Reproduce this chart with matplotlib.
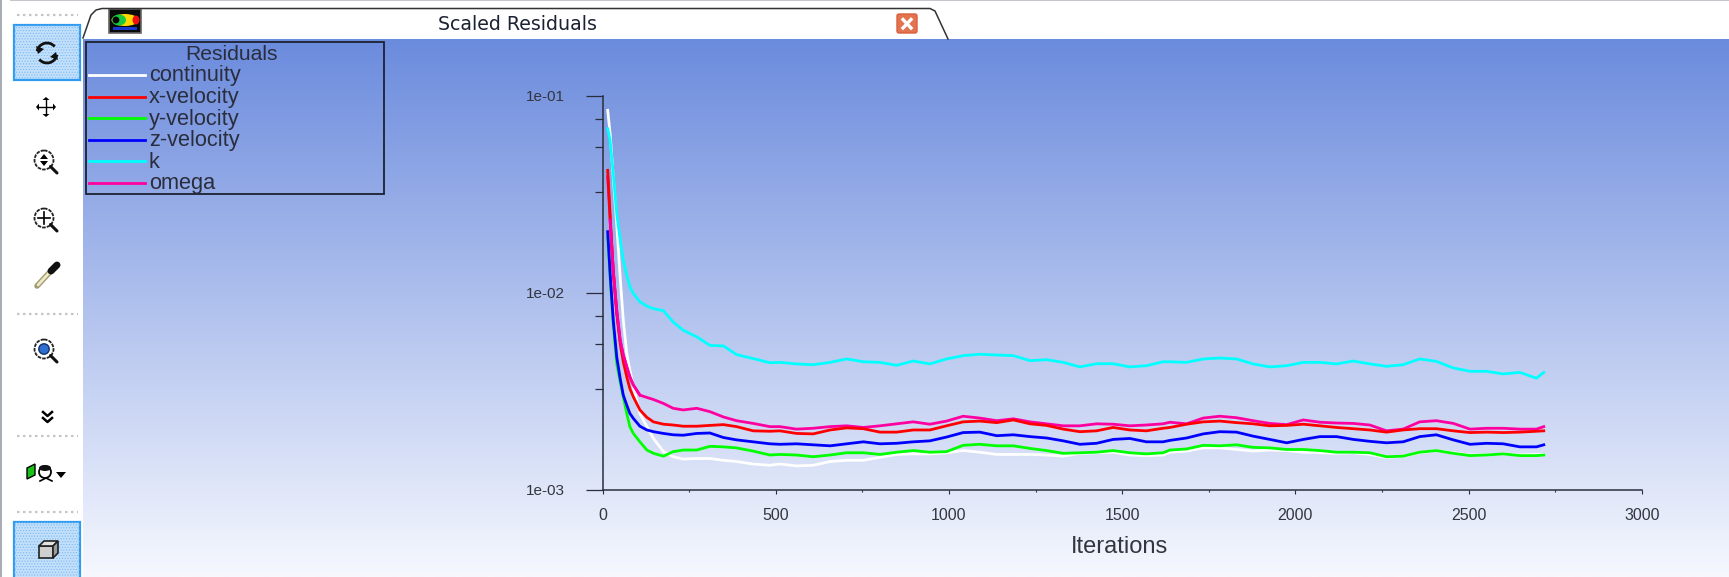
import numpy as np
import matplotlib
matplotlib.use("Agg")
import matplotlib.pyplot as plt
from matplotlib.patches import Circle, Polygon, Rectangle, Ellipse, FancyBboxPatch, Arc
from matplotlib.ticker import FixedLocator, FixedFormatter, NullFormatter

"""
Fluent style "Scaled Residuals" window: toolbar, tab, legend and the residual history
"""

W, H = 1729, 577
FONT = "Liberation Sans"
DARK = "#2a2d3c"

# residuals are listed in units of 1e-3
UNIT = 1e-3

iterations = [
    15, 22, 31, 41, 51, 60, 70, 79, 89, 108, 128, 147, 176, 204, 233, 272, 310, 349, 387, 435, 483,
    512, 560, 608, 657, 705, 753, 801, 849, 897, 945, 993, 1041, 1089, 1138, 1186, 1234, 1282, 1330,
    1378, 1426, 1474, 1522, 1570, 1618,
    1638, 1686, 1734, 1782, 1830, 1878, 1926, 1975, 2023, 2071, 2119, 2167, 2215, 2263, 2311, 2359,
    2407, 2456, 2504, 2552, 2600, 2648, 2696, 2717,
]

continuity = [
    84.3, 64.2, 38.7, 22.4, 12.0, 7.25, 4.91, 4.05, 3.33, 2.44, 2.09, 1.82, 1.56, 1.47, 1.43, 1.44, 1.44, 1.41, 1.39, 1.35, 1.33,
    1.35, 1.32, 1.33, 1.39, 1.41, 1.41, 1.46, 1.51, 1.52, 1.52, 1.54, 1.58, 1.55, 1.51, 1.51, 1.51, 1.50, 1.48, 1.53, 1.54, 1.55, 1.50, 1.49, 1.50,
    1.55, 1.57, 1.63, 1.63, 1.60, 1.57, 1.59, 1.58, 1.55, 1.54, 1.53, 1.54, 1.51, 1.46, 1.48, 1.54, 1.58, 1.54, 1.50, 1.50, 1.52, 1.50, 1.51, 1.51,
]
x_velocity = [
    41.8, 24.7, 12.8, 7.84, 5.52, 4.46, 3.74, 3.26, 2.96, 2.54, 2.33, 2.21, 2.15, 2.13, 2.10, 2.10, 2.12, 2.14, 2.09, 1.99, 1.98,
    1.99, 1.93, 1.92, 2.01, 2.06, 2.04, 1.96, 1.96, 2.01, 2.01, 2.11, 2.21, 2.23, 2.19, 2.26, 2.16, 2.12, 2.03, 1.97, 1.99, 2.07, 2.01, 1.99, 2.05,
    2.07, 2.15, 2.21, 2.23, 2.19, 2.16, 2.11, 2.12, 2.15, 2.11, 2.07, 2.04, 2.01, 1.96, 2.01, 2.04, 2.04, 1.99, 1.95, 1.96, 1.95, 1.96, 1.98, 1.99,
]
y_velocity = [
    19.2, 12.0, 6.98, 4.37, 3.53, 2.96, 2.44, 2.09, 1.93, 1.75, 1.59, 1.53, 1.48, 1.56, 1.59, 1.59, 1.66, 1.65, 1.63, 1.57, 1.50,
    1.51, 1.50, 1.47, 1.50, 1.54, 1.54, 1.51, 1.55, 1.58, 1.55, 1.56, 1.68, 1.70, 1.67, 1.67, 1.62, 1.58, 1.53, 1.54, 1.55, 1.58, 1.54, 1.52, 1.54,
    1.59, 1.61, 1.68, 1.67, 1.69, 1.64, 1.63, 1.60, 1.60, 1.58, 1.55, 1.55, 1.54, 1.47, 1.48, 1.55, 1.58, 1.53, 1.49, 1.50, 1.52, 1.49, 1.49, 1.50,
]
z_velocity = [
    20.4, 12.5, 7.25, 4.73, 3.67, 3.02, 2.69, 2.44, 2.30, 2.10, 2.01, 1.97, 1.93, 1.90, 1.89, 1.93, 1.94, 1.84, 1.79, 1.75, 1.71,
    1.70, 1.71, 1.69, 1.67, 1.71, 1.75, 1.71, 1.72, 1.75, 1.77, 1.85, 1.95, 1.96, 1.88, 1.90, 1.86, 1.83, 1.77, 1.70, 1.72, 1.80, 1.82, 1.75, 1.75,
    1.78, 1.83, 1.92, 1.97, 1.96, 1.87, 1.80, 1.73, 1.80, 1.86, 1.86, 1.80, 1.76, 1.73, 1.75, 1.86, 1.90, 1.79, 1.70, 1.72, 1.71, 1.65, 1.65, 1.69,
]
k = [
    68.0, 59.3, 40.2, 25.2, 18.5, 14.6, 12.3, 10.7, 9.91, 9.0, 8.55, 8.3, 8.1, 7.1, 6.45, 5.97, 5.4, 5.37, 4.85, 4.63, 4.41,
    4.43, 4.35, 4.31, 4.43, 4.61, 4.46, 4.43, 4.28, 4.50, 4.35, 4.61, 4.79, 4.87, 4.83, 4.79, 4.52, 4.57, 4.43, 4.20, 4.36, 4.36, 4.20, 4.26, 4.46,
    4.46, 4.43, 4.61, 4.66, 4.61, 4.35, 4.20, 4.26, 4.43, 4.43, 4.35, 4.50, 4.35, 4.23, 4.31, 4.61, 4.48, 4.15, 3.99, 3.99, 3.87, 3.94, 3.68, 3.94,
]
omega = [
    38.7, 23.3, 13.0, 8.15, 5.74, 4.82, 4.21, 3.74, 3.40, 3.02, 2.94, 2.87, 2.74, 2.59, 2.54, 2.59, 2.49, 2.34, 2.24, 2.17, 2.09,
    2.09, 2.03, 2.05, 2.09, 2.11, 2.07, 2.11, 2.16, 2.21, 2.15, 2.23, 2.36, 2.31, 2.24, 2.29, 2.21, 2.16, 2.11, 2.11, 2.16, 2.15, 2.11, 2.13, 2.16,
    2.20, 2.16, 2.31, 2.36, 2.32, 2.24, 2.17, 2.14, 2.26, 2.20, 2.18, 2.17, 2.13, 1.99, 2.03, 2.21, 2.24, 2.17, 2.03, 2.05, 2.05, 2.03, 2.03, 2.09,
]

series_names = ["continuity", "x-velocity", "y-velocity", "z-velocity", "k", "omega"]
series_values = [continuity, x_velocity, y_velocity, z_velocity, k, omega]
series_colors = ["#ffffff", "#ff0000", "#00ff00", "#0000ff", "#00ffff", "#ff00a0"]
draw_order = [0, 5, 4, 2, 3, 1]

x_major = [0, 500, 1000, 1500, 2000, 2500, 3000]
x_minor = [250, 750, 1250, 1750, 2250, 2750]
y_major = [1e-3, 1e-2, 1e-1]
y_major_labels = ["1e-03", "1e-02", "1e-01"]
y_minor = [3.24e-3, 5.48e-3, 7.66e-3, 3.24e-2, 5.48e-2, 7.66e-2]


def magnifier(ax, cx, cy):
    ax.add_patch(Circle((cx, cy), 9.5, fc="white", ec="#222222", lw=1.3, ls=(0, (2, 0.6))))
    ax.plot([cx + 6.5, cx + 13], [cy + 6.5, cy + 13], color="#111111", lw=2.2, solid_capstyle="round")


def arrows(ax, cx, cy, r):
    ax.plot([cx - r, cx + r], [cy, cy], color="black", lw=1)
    ax.plot([cx, cx], [cy - r, cy + r], color="black", lw=1)
    for dx, dy in [(1, 0), (-1, 0), (0, 1), (0, -1)]:
        tip = (cx + dx * (r + 3), cy + dy * (r + 3))
        side = ((dy * 3.5), (dx * 3.5))
        base = (cx + dx * r, cy + dy * r)
        ax.add_patch(Polygon([tip, (base[0] + side[0], base[1] + side[1]),
                              (base[0] - side[0], base[1] - side[1])], fc="black", ec="none"))


def draw_window(ax):
    # gradient of the graphics area
    top = np.array([107, 139, 221]) / 255
    bottom = np.array([246, 248, 254]) / 255
    t = np.linspace(0, 1, 256)[:, None, None]
    grad = top * (1 - t) + bottom * t
    ax.imshow(grad, extent=(83, W, H, 39), aspect="auto", zorder=0)
    ax.set_xlim(0, W)
    ax.set_ylim(H, 0)

    # window edges
    ax.add_patch(Rectangle((0, 0), 2, H, fc="#a9adb8", ec="none"))
    ax.add_patch(Rectangle((10, 0), W, 1.2, fc="#c4c6cc", ec="none"))

    # tab with title
    ax.plot([83, 91, 96, 102, 930, 935, 948], [38, 15, 10, 8.5, 8.5, 11, 39], color="#333333", lw=1.1)
    ax.text(517, 24.5, "Scaled Residuals", family="DejaVu Sans", fontsize=13.7, color="#1c2233",
            ha="center", va="center")
    ax.add_patch(FancyBboxPatch((898, 15), 18, 17, boxstyle="round,pad=1,rounding_size=2",
                                fc="#e2744f", ec="#d9603f", lw=1))
    ax.plot([903, 911], [19.5, 28], color="white", lw=2.4)
    ax.plot([911, 903], [19.5, 28], color="white", lw=2.4)

    # tab icon
    ax.add_patch(Rectangle((109, 9), 32, 24, fc="#0a0a0a", ec="#666666", lw=1.2))
    ax.add_patch(Ellipse((125, 20), 27, 12, fc="#ffd800", ec="none"))
    ax.add_patch(Ellipse((119, 20), 14, 11, fc="#18c840", ec="none"))
    ax.add_patch(Ellipse((136, 20), 7, 9, fc="#f01010", ec="none"))
    ax.add_patch(Circle((116, 20), 3.4, fc="#050505", ec="none"))
    ax.add_patch(Rectangle((113, 27), 24, 2.5, fc="#1838d0", ec="none"))

    # toolbar buttons and separators
    plt.rcParams["hatch.linewidth"] = 0.5
    for y0, y1 in [(25, 80), (522, 590)]:
        ax.add_patch(Rectangle((14, y0), 66, y1 - y0, fc="#c2e0fb", ec="#2f9bf0", lw=1.6))
        ax.add_patch(Rectangle((14, y0), 66, y1 - y0, fc="none", ec="#7db9f2", lw=0, hatch="......"))
    for y in [15, 314, 436, 512]:
        ax.plot([17, 78], [y, y], color="#c4c4c4", lw=1.6, ls=(0, (1.1, 1.6)))

    # refresh
    ax.add_patch(Arc((47, 53), 20, 20, theta1=190, theta2=320, color="#111111", lw=2))
    ax.add_patch(Arc((47, 53), 20, 20, theta1=10, theta2=140, color="#111111", lw=2))
    ax.add_patch(Polygon([(36, 46), (44, 49), (38, 54)], fc="#111111", ec="none"))
    ax.add_patch(Polygon([(58, 60), (50, 57), (56, 52)], fc="#111111", ec="none"))
    arrows(ax, 46, 107, 7)
    # zoom to fit
    magnifier(ax, 44, 160)
    ax.add_patch(Polygon([(44, 154), (40, 159), (48, 159)], fc="black", ec="none"))
    ax.add_patch(Polygon([(44, 166), (40, 161), (48, 161)], fc="black", ec="none"))
    # zoom in
    magnifier(ax, 44, 218)
    ax.plot([38, 50], [218, 218], color="black", lw=1.2)
    ax.plot([44, 44], [212, 224], color="black", lw=1.2)
    # pipette
    ax.plot([37, 50], [286, 272], color="#a09a70", lw=4, solid_capstyle="round")
    ax.plot([38, 49], [285, 273], color="#efe9c8", lw=2, solid_capstyle="round")
    ax.plot([51, 57], [271, 265], color="#111111", lw=5, solid_capstyle="round")
    # zoom to selection
    magnifier(ax, 44, 349)
    ax.add_patch(Circle((44, 349), 5.2, fc="#2f6fd0", ec="#10306a", lw=1))
    # chevrons
    for y in [412, 418]:
        ax.plot([43, 47.5, 52], [y, y + 4, y], color="black", lw=1.8)
    # view tool
    ax.add_patch(Polygon([(27, 479), (27, 468), (35, 464), (35, 475)], fc="#18c018", ec="black", lw=1))
    ax.add_patch(Circle((45, 472), 6, fc="white", ec="black", lw=1.3))
    ax.add_patch(Ellipse((45, 468), 12, 6, fc="#111111", ec="none"))
    ax.plot([40, 46, 52], [481, 478, 481], color="black", lw=1.2)
    ax.add_patch(Polygon([(56, 472), (66, 472), (61, 478)], fc="black", ec="none"))
    # cube
    ax.add_patch(Polygon([(39, 546), (53, 546), (53, 558), (39, 558)], fc="#cfcfcf", ec="#222222", lw=1.2))
    ax.add_patch(Polygon([(39, 546), (44, 541), (58, 541), (53, 546)], fc="#e3e3e3", ec="#222222", lw=1.2))
    ax.add_patch(Polygon([(53, 546), (58, 541), (58, 553), (53, 558)], fc="#9d9d9d", ec="#222222", lw=1.2))


def draw_legend(ax):
    ax.add_patch(Rectangle((86, 42), 298, 152, fc="none", ec="#1d2130", lw=1.3))
    ax.text(231.5, 54, "Residuals", family=FONT, fontsize=15.2, color=DARK, ha="center", va="center")
    key_y = [75, 96.7, 117.7, 139.7, 161, 182.7]
    text_y = [76, 97.7, 119, 140.7, 162, 183.5]
    for name, color, ky, ty in zip(series_names, series_colors, key_y, text_y):
        ax.plot([89, 145], [ky, ky], color=color, lw=2)
        ax.text(149, ty, name, family=FONT, fontsize=15.7, color=DARK, ha="left", va="center")


fig = plt.figure(figsize=(W / 100, H / 100), dpi=100, facecolor="white")

bg = fig.add_axes([0, 0, 1, 1])
bg.axis("off")
draw_window(bg)
draw_legend(bg)

# axes box in window pixels: x 602.5-1641.8, y 95.7-489.7
ax = fig.add_axes([602.5 / W, (H - 489.7) / H, 1039.3 / W, 394.0 / H])
ax.patch.set_alpha(0)

for i in draw_order:
    ax.plot(iterations, np.array(series_values[i]) * UNIT, color=series_colors[i], lw=2.0,
            solid_joinstyle="round", label=series_names[i])
# omega stays over x-velocity during the initial drop
ax.plot(iterations[1:10], np.array(omega[1:10]) * UNIT, color="#ff00a0", lw=2.0)

ax.set_yscale("log")
ax.set_xlim(0, 3000)
ax.set_ylim(1e-3, 1e-1)

ax.xaxis.set_major_locator(FixedLocator(x_major))
ax.xaxis.set_minor_locator(FixedLocator(x_minor))
ax.yaxis.set_major_locator(FixedLocator(y_major))
ax.yaxis.set_major_formatter(FixedFormatter(y_major_labels))
ax.yaxis.set_minor_locator(FixedLocator(y_minor))
ax.yaxis.set_minor_formatter(NullFormatter())

for side in ["top", "right"]:
    ax.spines[side].set_visible(False)
for side in ["left", "bottom"]:
    ax.spines[side].set_linewidth(1.1)
    ax.spines[side].set_color(DARK)

ax.tick_params(axis="x", which="major", length=3.2, width=0.8, color=DARK, pad=10,
               labelsize=11.5, labelcolor="#33363f")
ax.tick_params(axis="x", which="minor", length=1.6, width=0.8, color=DARK)
ax.tick_params(axis="y", which="major", length=12, width=0.9, color=DARK, pad=15,
               labelsize=11, labelcolor="#33363f")
ax.tick_params(axis="y", which="minor", length=6, width=0.9, color=DARK)
for label in ax.get_xticklabels() + ax.get_yticklabels():
    label.set_family(FONT)

ax.set_xlabel("Iterations", family=FONT, fontsize=17, color="#33363f", labelpad=9, x=0.4975)

fig.savefig("out.png", dpi=100)
